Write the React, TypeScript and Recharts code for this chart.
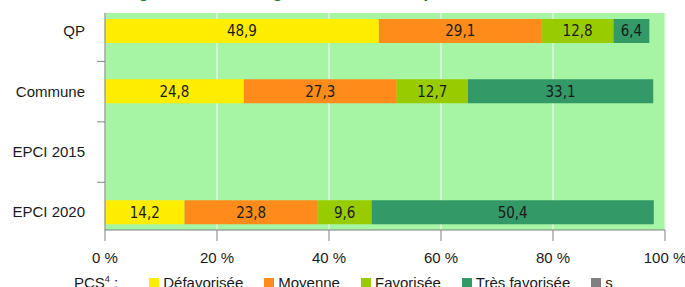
import { BarChart, Bar, XAxis, YAxis, CartesianGrid, LabelList } from 'recharts';

const categories = ['QP', 'Commune', 'EPCI 2015', 'EPCI 2020'];
const defavorisee = [48.9, 24.8, null, 14.2];
const moyenne = [29.1, 27.3, null, 23.8];
const favorisee = [12.8, 12.7, null, 9.6];
const tresFavorisee = [6.4, 33.1, null, 50.4];
const secret = [null, null, null, null];
const xTicks = [0, 20, 40, 60, 80, 100];

const series = [
  { key: 'def', name: 'Défavorisée', color: '#FFED00', values: defavorisee },
  { key: 'moy', name: 'Moyenne', color: '#FF8C1A', values: moyenne },
  { key: 'fav', name: 'Favorisée', color: '#99CC00', values: favorisee },
  { key: 'tf', name: 'Très favorisée', color: '#339966', values: tresFavorisee },
  { key: 's', name: 's', color: '#808080', values: secret },
];

const data = categories.map((c, i) => {
  const row: Record<string, any> = { name: c, idx: i };
  series.forEach(s => { row[s.key] = s.values[i]; });
  return row;
});

const fmt = (v: any) => (v == null || v === 0 ? '' : Number(v).toFixed(1).replace('.', ','));

// label centred on the bar, tick mark drawn between two categories
const CatTick = (props: any) => {
  const { x, y, payload, index } = props;
  return (
    <g>
      <text x={x - 20} y={y} dy={5} textAnchor="end" fontSize={15} fill="#1a1a1a" fontFamily="Liberation Sans, Arial, sans-serif">
        {categories[payload.value]}
      </text>
      {index < categories.length - 1 && (
        <line x1={x - 8} x2={x} y1={y + 30.25} y2={y + 30.25} stroke="#808080" />
      )}
    </g>
  );
};

export default function App() {
  return (
    <div style={{ position: 'absolute', left: 0, top: 0, width: 685, height: 287, overflow: 'hidden', background: '#fff' }}>
      <div style={{ position: 'absolute', left: 8, top: -19, fontFamily: 'Liberation Sans, Arial, sans-serif', fontWeight: 'bold', fontSize: 18, lineHeight: '20px', color: '#1B7F1B', whiteSpace: 'nowrap' }}>
        Élèves du collège selon la catégorie sociale des parents
      </div>
      <BarChart
        width={685}
        height={287}
        data={data}
        layout="vertical"
        margin={{ top: 13, right: 20, left: 0, bottom: 27 }}
        style={{ position: 'absolute', left: 0, top: 0 }}
      >
        <CartesianGrid horizontal={false} fill="#A5F5A5" stroke="#DDF9DD" strokeWidth={1.5} />
        <XAxis
          type="number"
          domain={[0, 100]}
          ticks={xTicks}
          tickFormatter={v => `${v} %`}
          height={30}
          tickSize={11}
          tickMargin={11}
          axisLine={{ stroke: '#808080' }}
          tickLine={{ stroke: '#808080' }}
          tick={{ fill: '#1a1a1a', fontSize: 15, fontFamily: 'Liberation Sans, Arial, sans-serif' }}
        />
        <YAxis
          type="number"
          dataKey="idx"
          domain={[-0.3, 3.29]}
          allowDataOverflow
          ticks={[0, 1, 2, 3]}
          width={105}
          tickSize={0}
          tickMargin={0}
          tickLine={false}
          axisLine={{ stroke: '#808080' }}
          tick={<CatTick />}
        />
        {series.map(s => (
          <Bar key={s.key} dataKey={s.key} name={s.name} stackId="a" fill={s.color} barSize={24} isAnimationActive={false}>
            <LabelList
              dataKey={s.key}
              position="center"
              formatter={fmt}
              fill="#1a1a1a"
              fontSize={15}
              fontFamily="DejaVu Sans Condensed, Liberation Sans Narrow, sans-serif"
            />
          </Bar>
        ))}
      </BarChart>
      <div style={{ position: 'absolute', left: 74, top: 274, display: 'flex', alignItems: 'flex-start', fontFamily: 'Liberation Sans, Arial, sans-serif', fontSize: 15, lineHeight: '17px', color: '#1a1a1a', whiteSpace: 'nowrap' }}>
        <span style={{ marginRight: 31 }}>PCS<sup style={{ fontSize: 9, verticalAlign: 'top', lineHeight: '10px' }}>4</sup> :</span>
        {series.map(s => (
          <span key={s.key} style={{ display: 'flex', alignItems: 'flex-start', marginRight: 21 }}>
            <span style={{ width: 10, height: 10, background: s.color, marginTop: 4, marginRight: 4 }} />
            {s.name}
          </span>
        ))}
      </div>
    </div>
  );
}
